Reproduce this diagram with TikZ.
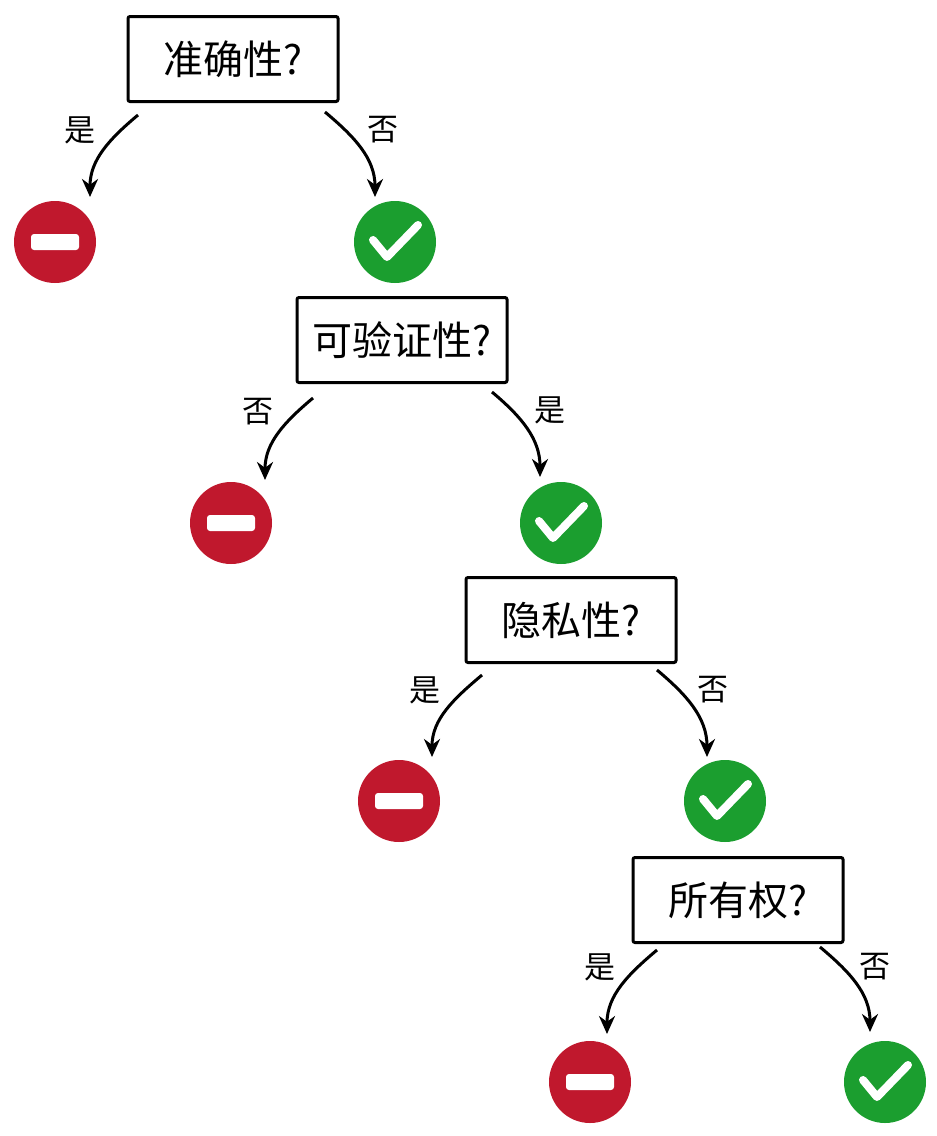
\documentclass[tikz,border=0pt]{standalone}
\usepackage{fontspec}
\newfontfamily\cjk{Noto Sans CJK SC}
\newfontfamily\cjkm{Noto Sans CJK SC Medium}
\usetikzlibrary{arrows.meta}
\definecolor{okgreen}{HTML}{1B9E2F}
\definecolor{nored}{HTML}{C0182D}
\tikzset{
 q/.style={draw,line width=3pt,rounded corners=2pt,minimum width=210pt,minimum height=85pt,font=\cjk\fontsize{40}{42}\selectfont},
 lab/.style={font=\cjk\fontsize{31}{33}\selectfont},
 arr/.style={line width=3pt,-{Stealth[length=18pt,width=16pt]}},
 no/.style={circle,fill=nored,minimum size=82pt,inner sep=0pt,
  path picture={\fill[white,rounded corners=3pt] ([xshift=-24pt,yshift=-8pt]path picture bounding box.center) rectangle ([xshift=24pt,yshift=8pt]path picture bounding box.center);}},
 ok/.style={circle,fill=okgreen,minimum size=82pt,inner sep=0pt,
  path picture={\draw[white,line width=8pt,line cap=round,line join=round] ([xshift=-22pt,yshift=2pt]path picture bounding box.center) -- ([xshift=-8pt,yshift=-15pt]path picture bounding box.center) -- ([xshift=23pt,yshift=17pt]path picture bounding box.center);}}
}
\begin{document}
\begin{tikzpicture}[x=1pt,y=-1pt]
\useasboundingbox (0,0) rectangle (937,1136);
\node[q] (q1) at (233,59) {准确性?};
\node[q] (q2) at (402,340) {可验证性?};
\node[q] (q3) at (571,620) {隐私性?};
\node[q] (q4) at (738,900) {所有权?};
\node[no] (r1) at (55,242) {};
\node[ok] (g1) at (395,242) {};
\node[no] (r2) at (231,523) {};
\node[ok] (g2) at (561,523) {};
\node[no] (r3) at (399,801) {};
\node[ok] (g3) at (725,801) {};
\node[no] (r4) at (590,1082) {};
\node[ok] (g4) at (885,1082) {};
\coordinate (a1) at (138,115); \coordinate (b1) at (90,197);
\coordinate (c1) at (325,112); \coordinate (d1) at (375,197);
\coordinate (a2) at (313,398); \coordinate (b2) at (265,480);
\coordinate (c2) at (492,392); \coordinate (d2) at (540,477);
\coordinate (a3) at (482,675); \coordinate (b3) at (432,757);
\coordinate (c3) at (657,670); \coordinate (d3) at (707,757);
\coordinate (a4) at (657,950); \coordinate (b4) at (607,1034);
\coordinate (c4) at (820,947); \coordinate (d4) at (870,1032);
\foreach \i in {1,2,3,4}{
 \draw[arr] (a\i) to[out=-140,in=90] (b\i);
 \draw[arr] (c\i) to[out=-40,in=90] (d\i);
}
\node[lab] (l1) at (80,130) {是};
\node[lab] (m1) at (383,130) {否};
\node[lab] (l2) at (258,412) {否};
\node[lab] (m2) at (550,410) {是};
\node[lab] (l3) at (425,690) {是};
\node[lab] (m3) at (713,690) {否};
\node[lab] (l4) at (600,967) {是};
\node[lab] (m4) at (875,967) {否};
\end{tikzpicture}
\end{document}
